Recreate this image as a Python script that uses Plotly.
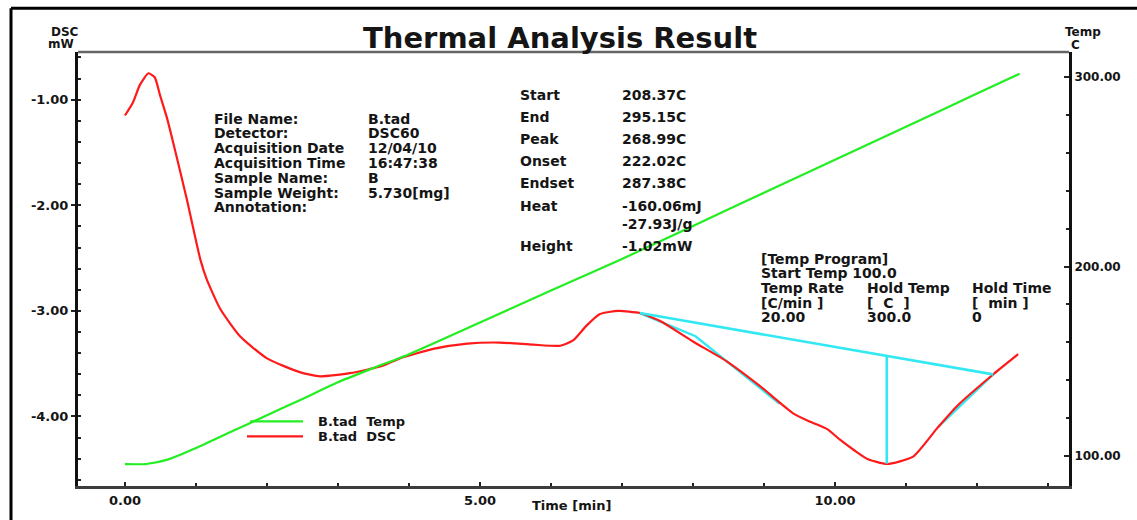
import numpy as np
import plotly.graph_objects as go

# ---- measured curves -------------------------------------------------------
# Sample temperature (right axis, C) against time (min)
temp_time = [0.0, 0.3, 0.6, 1.0, 1.5, 2.0, 2.5, 3.0, 3.5, 4.0, 5.0, 6.0,
             7.0, 8.0, 9.0, 10.0, 11.0, 12.0, 12.6]
temp_c = [95.8, 95.9, 98.2, 104.3, 113.0, 121.6, 130.2, 139.0, 146.5, 153.8,
          170.5, 187.3, 204.0, 221.4, 238.9, 256.3, 273.7, 291.2, 301.6]

# DSC signal (left axis, mW) against time (min)
dsc_time = [0.00, 0.11, 0.21, 0.33, 0.42, 0.49, 0.59, 0.68, 0.87, 1.06, 1.15,
            1.34, 1.62, 2.00, 2.46, 2.75, 3.17, 3.63, 3.87, 4.34, 4.82, 5.28,
            5.75, 6.13, 6.31, 6.50, 6.69, 6.95, 7.25, 7.55, 8.00, 8.48, 8.94,
            9.41, 9.65, 9.89, 10.07, 10.27, 10.45, 10.73, 11.10, 11.44, 11.72,
            12.23, 12.58]
dsc_mw = [-1.15, -1.03, -0.86, -0.75, -0.79, -0.95, -1.17, -1.41, -1.94, -2.51,
          -2.70, -2.98, -3.24, -3.45, -3.58, -3.62, -3.59, -3.52, -3.45, -3.36,
          -3.31, -3.30, -3.32, -3.33, -3.28, -3.14, -3.03, -3.00, -3.02, -3.10,
          -3.29, -3.48, -3.71, -3.97, -4.05, -4.12, -4.22, -4.32, -4.40, -4.45,
          -4.38, -4.11, -3.90, -3.60, -3.41]

# ---- peak analysis results ---------------------------------------------------
start_c = 208.37
end_c = 295.15
peak_c = 268.99
onset_c = 222.02
endset_c = 287.38
heat_mj = -160.06
heat_jg = -27.93
height_mw = -1.02

# tangent construction points (time in min, DSC in mW)
onset_knee_mw = -3.24
onset_tangent_end = (9.22, -3.88)
endset_tangent_start = (11.45, -4.10)

# ---- header / program texts -------------------------------------------------
file_labels = ["File Name:", "Detector:", "Acquisition Date", "Acquisition Time",
               "Sample Name:", "Sample Weight:", "Annotation:"]
file_values = ["B.tad", "DSC60", "12/04/10", "16:47:38", "B", "5.730[mg]", ""]

program_rows = [["[Temp Program]", "", ""],
                ["Start Temp 100.0", "", ""],
                ["Temp Rate", "Hold Temp", "Hold Time"],
                ["[C/min ]", "[  C  ]", "[  min ]"],
                ["20.00", "300.0", "0"]]

x_ticks = [0, 5, 10]
y_ticks = [-1, -2, -3, -4]
y2_ticks = [100, 200, 300]

# ---- derived marks ------------------------------------------------------------
def time_at(temp):
    return float(np.interp(temp, temp_c, temp_time))

def dsc_at(t):
    return float(np.interp(t, dsc_time, dsc_mw))

t_start, t_end = time_at(start_c), time_at(end_c)
t_peak, t_onset = time_at(peak_c), time_at(onset_c)
base_t = [t_start, t_end]
base_v = [dsc_at(t_start), dsc_at(t_end)]
base_at_peak = float(np.interp(t_peak, base_t, base_v))

# ---- page geometry (pixels) ---------------------------------------------------
W, H = 1137, 520
L, R, T, B = 78, 1069, 52, 489


def px(x):
    return (x - L) / (R - L)


def py(y):
    return (B - y) / (B - T)


FONT = "DejaVu Sans"
INK = "#151515"
RED = "#ff1a1a"
GREEN = "#22ee22"
CYAN = "#33e8f2"

fig = go.Figure()

fig.add_trace(go.Scatter(x=temp_time, y=temp_c, yaxis="y2", mode="lines",
                         line=dict(color=GREEN, width=2.2, shape="spline", smoothing=0.6),
                         name="B.tad  Temp", showlegend=False))

# tangent lines sit under the DSC trace
fig.add_trace(go.Scatter(x=[t_start, t_onset, onset_tangent_end[0]],
                         y=[base_v[0], onset_knee_mw, onset_tangent_end[1]],
                         mode="lines", line=dict(color=CYAN, width=2.4),
                         showlegend=False))
fig.add_trace(go.Scatter(x=[endset_tangent_start[0], t_end],
                         y=[endset_tangent_start[1], base_v[1]],
                         mode="lines", line=dict(color=CYAN, width=2.4),
                         showlegend=False))

fig.add_trace(go.Scatter(x=dsc_time, y=dsc_mw, mode="lines",
                         line=dict(color=RED, width=2.2, shape="spline", smoothing=0.55),
                         name="B.tad  DSC", showlegend=False))

# baseline and peak height
fig.add_trace(go.Scatter(x=base_t, y=base_v, mode="lines",
                         line=dict(color=CYAN, width=2.6), showlegend=False))
fig.add_trace(go.Scatter(x=[t_peak, t_peak], y=[base_at_peak, base_at_peak + height_mw],
                         mode="lines", line=dict(color=CYAN, width=2.6),
                         showlegend=False))

ann = []


def text(x, y, s, size=14, anchor="left", weight="bold"):
    ann.append(dict(x=px(x), y=py(y), xref="paper", yref="paper", text=s,
                    showarrow=False, xanchor=anchor, yanchor="middle",
                    font=dict(family=FONT, size=size, color=INK, weight=weight)))


# title and axis headers
text(560, 38, "Thermal Analysis Result", size=29, anchor="center")
text(65, 32, "DSC", size=12, anchor="center")
text(61, 44, "mW", size=12, anchor="center")
text(1083, 32, "Temp", size=12, anchor="center")
text(1075, 45, "C", size=12, anchor="center")
text(571, 509, "Time [min]", size=13, anchor="center")

# file information block
for i, (lab, val) in enumerate(zip(file_labels, file_values)):
    y = 119 + i * 14.9
    text(212, y, lab)
    if val:
        text(366, y, val)

# analysis results block
result_rows = [("Start", f"{start_c:.2f}C", 95), ("End", f"{end_c:.2f}C", 117),
               ("Peak", f"{peak_c:.2f}C", 140), ("Onset", f"{onset_c:.2f}C", 162),
               ("Endset", f"{endset_c:.2f}C", 184), ("Heat", f"{heat_mj:.2f}mJ", 207),
               ("", f"{heat_jg:.2f}J/g", 225), ("Height", f"{height_mw:.2f}mW", 247)]
for lab, val, y in result_rows:
    if lab:
        text(518, y, lab)
    text(620, y, val)

# temperature program block
col_x = [759, 865, 970]
row_y = [260, 275, 290, 305, 319]
for row, y in zip(program_rows, row_y):
    for s, x in zip(row, col_x):
        if s:
            text(x, y, s)

# legend
text(316, 424, "B.tad  Temp", size=13)
text(316, 439, "B.tad  DSC", size=13)

shapes = [
    dict(type="line", xref="paper", yref="paper", x0=px(250), x1=px(303),
         y0=py(424), y1=py(424), line=dict(color=GREEN, width=2.2)),
    dict(type="line", xref="paper", yref="paper", x0=px(247), x1=px(303),
         y0=py(439), y1=py(439), line=dict(color=RED, width=2.2)),
    # top edge of the plot frame
    dict(type="line", xref="paper", yref="paper", x0=0, x1=1, y0=1, y1=1,
         line=dict(color="#666666", width=2.5)),
    # outer page frame
    dict(type="line", xref="paper", yref="paper", x0=px(11), x1=px(1140),
         y0=py(8), y1=py(8), line=dict(color="#000000", width=3)),
    dict(type="line", xref="paper", yref="paper", x0=px(11), x1=px(11),
         y0=py(8), y1=py(530), line=dict(color="#000000", width=3)),
]

tickfont = dict(family=FONT, size=13, color=INK, weight="bold")
tickfont_right = dict(family=FONT, size=12, color=INK, weight="bold")

fig.update_layout(
    width=W, height=H, autosize=False,
    margin=dict(l=L, r=W - R, t=T, b=H - B),
    paper_bgcolor="white", plot_bgcolor="white",
    showlegend=False,
    annotations=ann, shapes=shapes,
    xaxis=dict(range=[(L - 125) / 71.0, (R - 125) / 71.0],
               tickmode="array", tickvals=x_ticks,
               ticktext=[f"{v:.2f}" for v in x_ticks],
               ticks="inside", ticklen=4, tickwidth=2, tickcolor="#222",
               minor=dict(tickmode="linear", tick0=0, dtick=1, ticks="inside",
                          ticklen=3, tickwidth=2, tickcolor="#222"),
               showline=True, linecolor="#3c3c3c", linewidth=3,
               showgrid=False, zeroline=False, tickfont=tickfont),
    yaxis=dict(range=[-4 - (B - 419) / 106.33, -1 + (100 - T) / 106.33],
               tickmode="array", tickvals=y_ticks,
               ticktext=[f"{v:.2f}" for v in y_ticks],
               ticks="outside", ticklen=4, tickwidth=2, tickcolor="#222",
               minor=dict(tickmode="linear", tick0=0, dtick=0.2, ticks="inside",
                          ticklen=3, tickwidth=2, tickcolor="#222"),
               showline=True, linecolor="#111", linewidth=3,
               showgrid=False, zeroline=False, tickfont=tickfont),
    yaxis2=dict(range=[100 - (B - 459) / 1.91, 300 + (77 - T) / 1.91],
                overlaying="y", side="right",
                tickmode="array", tickvals=y2_ticks,
                ticktext=[f"{v:.2f}" for v in y2_ticks],
                ticks="inside", ticklen=5, tickwidth=2, tickcolor="#222",
                minor=dict(tickmode="linear", tick0=0, dtick=20, ticks="inside",
                           ticklen=3, tickwidth=2, tickcolor="#222"),
                showline=True, linecolor="#111", linewidth=3,
                showgrid=False, zeroline=False, tickfont=tickfont_right),
)

fig.write_html("out.html")
